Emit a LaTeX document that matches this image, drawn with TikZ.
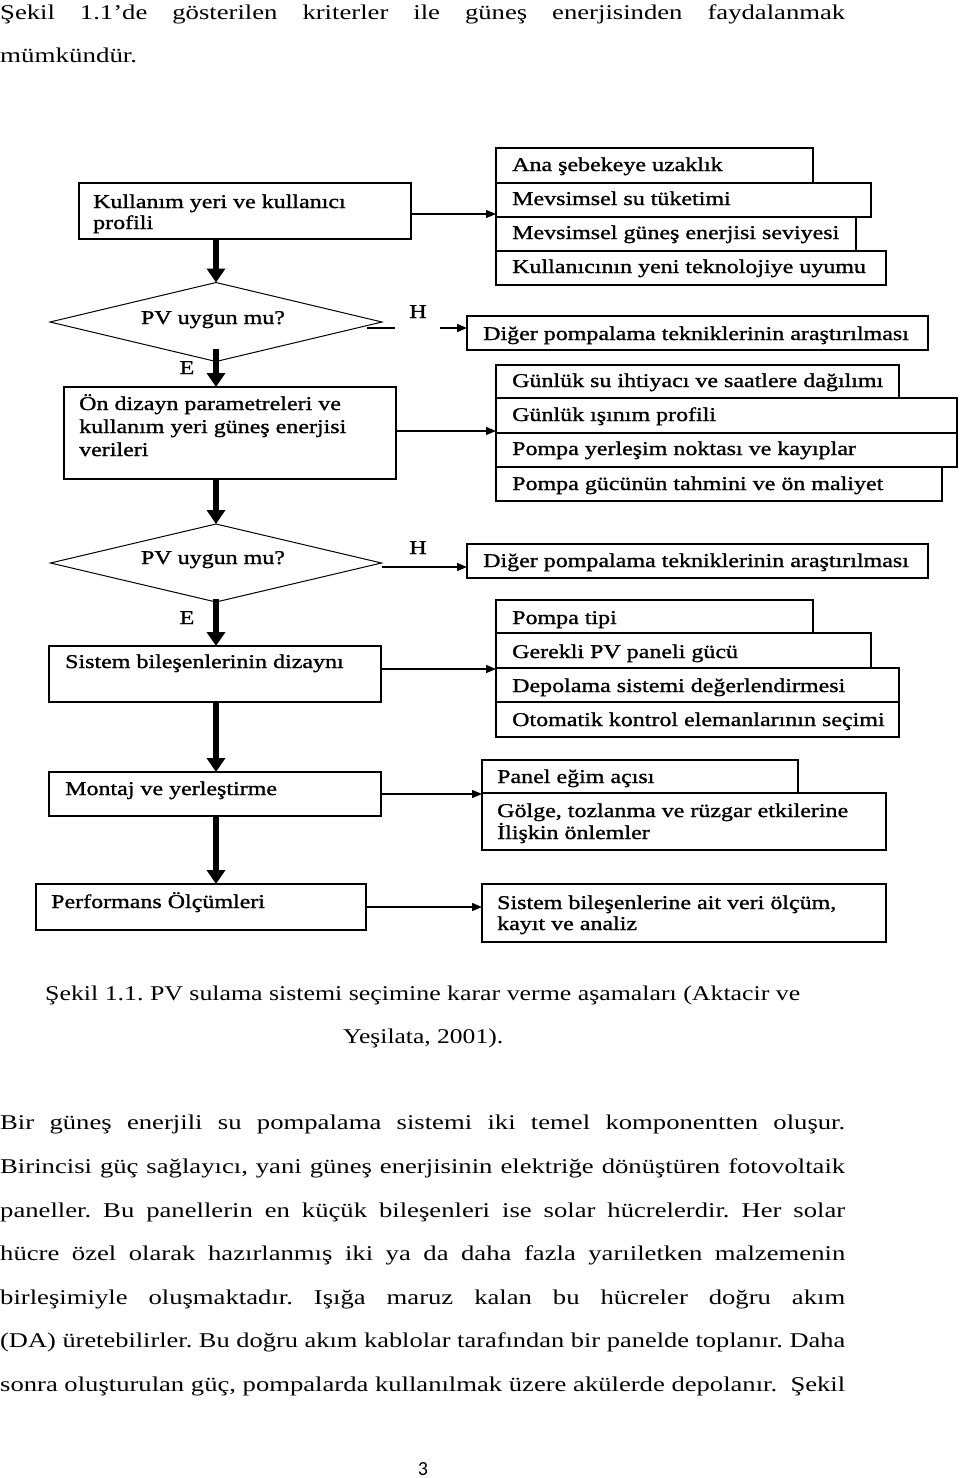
\documentclass[tikz,border=0pt]{standalone}
\usepackage{fontspec}
\usepackage{graphicx}
\setmainfont{Liberation Serif}
\newfontfamily\diafont[FakeStretch=1.23,FakeBold=1.2]{Liberation Serif}
\newfontfamily\bodyfont[FakeStretch=1.27]{Liberation Serif}
\newfontfamily\pgfont{Carlito}
\usetikzlibrary{shapes.geometric,arrows.meta,calc}
\frenchspacing
\newcommand\jline[1]{\sbox0{#1}\ifdim\wd0>845pt \resizebox{845pt}{\height}{#1}\else\makebox[845pt][s]{#1}\fi}
\newcommand\fitline[2]{\resizebox{#1}{\height}{#2}}
\begin{document}
\begin{tikzpicture}[x=1pt,y=-1pt,
 box/.style={draw, line width=1.2pt, anchor=north west, inner sep=0pt, outer sep=0pt},
 dia/.style={draw, diamond, line width=1pt, inner sep=0pt, outer sep=0pt},
 dtxt/.style={anchor=base west, inner sep=0pt, font=\diafont\fontsize{19.5}{22}\selectfont},
 dctr/.style={anchor=base, inner sep=0pt, font=\diafont\fontsize{19.5}{22}\selectfont},
 btxt/.style={anchor=base west, inner sep=0pt, font=\bodyfont\fontsize{21}{25}\selectfont},
 thickarr/.style={line width=6pt, -{Triangle[length=14pt,width=18pt]}},
 thinarr/.style={line width=1.3pt, -{Triangle[length=10pt,width=8pt]}}
]
\path[use as bounding box] (0,0) rectangle (960,1478);

% ---------- body text ----------
\node[btxt] (p0a) at (0,19) {\jline{Şekil 1.1’de gösterilen kriterler ile güneş enerjisinden faydalanmak}};
\node[btxt] (p0b) at (0,62) {\fitline{137pt}{mümkündür.}};
\node[btxt] (c1) at (45,1000) {\fitline{755pt}{Şekil 1.1. PV sulama sistemi seçimine karar verme aşamaları (Aktacir ve}};
\node[btxt] (c2) at (343,1043) {\fitline{160pt}{Yeşilata, 2001).}};
\node[btxt] (q1) at (0,1129) {\jline{Bir güneş enerjili su pompalama sistemi iki temel komponentten oluşur.}};
\node[btxt] (q2) at (0,1173) {\jline{Birincisi güç sağlayıcı, yani güneş enerjisinin elektriğe dönüştüren fotovoltaik}};
\node[btxt] (q3) at (0,1217) {\jline{paneller. Bu panellerin en küçük bileşenleri ise solar hücrelerdir. Her solar}};
\node[btxt] (q4) at (0,1260) {\jline{hücre özel olarak hazırlanmış iki ya da daha fazla yarıiletken malzemenin}};
\node[btxt] (q5) at (0,1304) {\jline{birleşimiyle oluşmaktadır. Işığa maruz kalan bu hücreler doğru akım}};
\node[btxt] (q6) at (0,1347) {\jline{(DA) üretebilirler. Bu doğru akım kablolar tarafından bir panelde toplanır. Daha}};
\node[btxt] (q7) at (0,1391) {\jline{sonra oluşturulan güç, pompalarda kullanılmak üzere akülerde depolanır.\ \ Şekil}};
\node[anchor=base, inner sep=0pt, font=\pgfont\fontsize{20}{24}\selectfont] (pg) at (423,1475) {3};

% ---------- left column ----------
\node[box, minimum width=332pt, minimum height=56pt] (b1) at (79,183) {};
\node[dia, minimum width=332pt, minimum height=79pt] (d1) at (216,322) {};
\node[box, minimum width=332pt, minimum height=92pt] (b2) at (64,387) {};
\node[dia, minimum width=331pt, minimum height=78pt] (d2) at (216,563) {};
\node[box, minimum width=332pt, minimum height=56pt] (b3) at (49,646) {};
\node[box, minimum width=332pt, minimum height=44pt] (b4) at (49,772) {};
\node[box, minimum width=330pt, minimum height=46pt] (b5) at (36,884) {};

% ---------- right column ----------
\node[box, minimum width=317pt, minimum height=35pt] (s1a) at (496,148) {};
\node[box, minimum width=375pt, minimum height=34pt] (s1b) at (496,183) {};
\node[box, minimum width=360pt, minimum height=34pt] (s1c) at (496,217) {};
\node[box, minimum width=390pt, minimum height=34pt] (s1d) at (496,251) {};
\node[box, minimum width=461pt, minimum height=34pt] (g1) at (467,316) {};
\node[box, minimum width=403pt, minimum height=33pt] (s2a) at (496,365) {};
\node[box, minimum width=461pt, minimum height=35pt] (s2b) at (496,398) {};
\node[box, minimum width=461pt, minimum height=34pt] (s2c) at (496,433) {};
\node[box, minimum width=446pt, minimum height=34pt] (s2d) at (496,467) {};
\node[box, minimum width=461pt, minimum height=34pt] (g2) at (467,544) {};
\node[box, minimum width=317pt, minimum height=33pt] (s3a) at (496,600) {};
\node[box, minimum width=375pt, minimum height=35pt] (s3b) at (496,633) {};
\node[box, minimum width=403pt, minimum height=34pt] (s3c) at (496,668) {};
\node[box, minimum width=403pt, minimum height=35pt] (s3d) at (496,702) {};
\node[box, minimum width=316pt, minimum height=33pt] (s4a) at (482,760) {};
\node[box, minimum width=404pt, minimum height=57pt] (s4b) at (482,793) {};
\node[box, minimum width=404pt, minimum height=58pt] (s5) at (482,884) {};

% ---------- texts ----------
\node[dtxt] (t1a) at (93,208) {Kullanım yeri ve kullanıcı};
\node[dtxt] (t1b) at (93,229) {profili};
\node[dctr] (td1) at (213,324) {PV uygun mu?};
\node[dctr] (h1) at (418,318) {H};
\node[dctr] (e1) at (187,374) {E};
\node[dtxt] (t2a) at (79,410) {Ön dizayn parametreleri ve};
\node[dtxt] (t2b) at (79,433) {kullanım yeri güneş enerjisi};
\node[dtxt] (t2c) at (79,456) {verileri};
\node[dctr] (td2) at (213,564) {PV uygun mu?};
\node[dctr] (h2) at (418,554) {H};
\node[dctr] (e2) at (187,624) {E};
\node[dtxt] (t3) at (65,668) {Sistem bileşenlerinin dizaynı};
\node[dtxt] (t4) at (65,795) {Montaj ve yerleştirme};
\node[dtxt] (t5) at (51,908) {Performans Ölçümleri};

\node[dtxt] (ts1a) at (512,171) {Ana şebekeye uzaklık};
\node[dtxt] (ts1b) at (512,205) {Mevsimsel su tüketimi};
\node[dtxt] (ts1c) at (512,239) {Mevsimsel güneş enerjisi seviyesi};
\node[dtxt] (ts1d) at (512,273) {Kullanıcının yeni teknolojiye uyumu};
\node[dtxt] (tg1) at (483,340) {Diğer pompalama tekniklerinin araştırılması};
\node[dtxt] (ts2a) at (512,387) {Günlük su ihtiyacı ve saatlere dağılımı};
\node[dtxt] (ts2b) at (512,421) {Günlük ışınım profili};
\node[dtxt] (ts2c) at (512,455) {Pompa yerleşim noktası ve kayıplar};
\node[dtxt] (ts2d) at (512,490) {Pompa gücünün tahmini ve ön maliyet};
\node[dtxt] (tg2) at (483,567) {Diğer pompalama tekniklerinin araştırılması};
\node[dtxt] (ts3a) at (512,624) {Pompa tipi};
\node[dtxt] (ts3b) at (512,658) {Gerekli PV paneli gücü};
\node[dtxt] (ts3c) at (512,692) {Depolama sistemi değerlendirmesi};
\node[dtxt] (ts3d) at (512,726) {Otomatik kontrol elemanlarının seçimi};
\node[dtxt] (ts4a) at (497,783) {Panel eğim açısı};
\node[dtxt] (ts4b) at (497,817) {Gölge, tozlanma ve rüzgar etkilerine};
\node[dtxt] (ts4c) at (497,839) {İlişkin önlemler};
\node[dtxt] (ts5a) at (497,909) {Sistem bileşenlerine ait veri ölçüm,};
\node[dtxt] (ts5b) at (497,930) {kayıt ve analiz};

% ---------- thick arrows (main flow) ----------
\draw[thickarr] (d1.north |- b1.south) -- (d1.north);
\draw[thickarr] ($(d1.south)+(0,-13)$) -- (d1.south |- b2.north);
\draw[thickarr] (d1.south |- b2.south) -- (d2.north);
\draw[thickarr] ($(d2.south)+(0,-3)$) -- (d2.south |- b3.north);
\draw[thickarr] (d2.south |- b3.south) -- (d2.south |- b4.north);
\draw[thickarr] (d2.south |- b4.south) -- (d2.south |- b5.north);

% ---------- thin arrows ----------
\draw[thinarr] ($(b1.east)+(0,3)$) coordinate (a1) -- (a1 -| s1c.west);
\draw[thinarr] ($(b2.east)+(0,-2)$) coordinate (a2) -- (a2 -| s2b.west);
\draw[thinarr] ($(b3.east)+(0,-5)$) coordinate (a3) -- (a3 -| s3c.west);
\draw[thinarr] (b4.east) -- (b4.east -| s4b.west);
\draw[thinarr] (b5.east) -- (b5.east -| s5.west);

% ---------- H connectors ----------
\draw[thinarr, dash pattern=on 28pt off 45pt on 100pt] ($(d1.east)+(-15,6)$) coordinate (hh1) -- (hh1 -| g1.west);
\draw[thinarr] ($(d2.east)+(0,4)$) coordinate (hh2) -- (hh2 -| g2.west);
\end{tikzpicture}
\end{document}
